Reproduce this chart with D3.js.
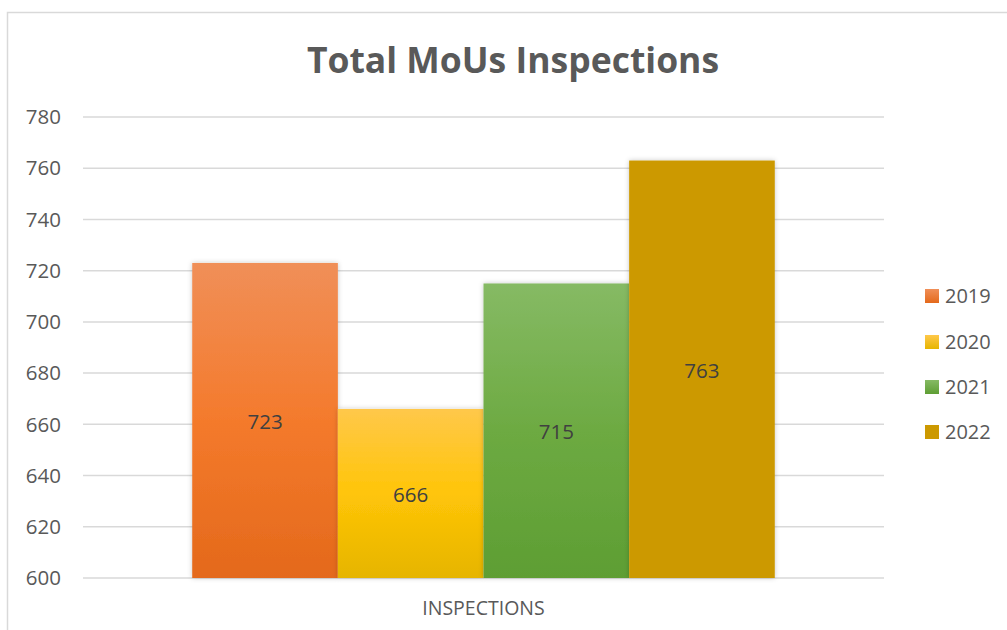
<!DOCTYPE html>
<html><head><meta charset="utf-8">
<script src="https://cdn.jsdelivr.net/npm/d3@7"></script>
<style>html,body{margin:0;padding:0;background:#fff;overflow:hidden}</style>
</head><body>
<script>
const title = "Total MoUs Inspections";
const category = "INSPECTIONS";
const seriesNames = ["2019", "2020", "2021", "2022"];
const values = [723, 666, 715, 763];
const yTicks = [600, 620, 640, 660, 680, 700, 720, 740, 760, 780];
const gradStops = [
  ["#F08F58", "#F47A2C", "#E4691B"],
  ["#FFC84A", "#FFC508", "#E6B500"],
  ["#86BA64", "#6DAA42", "#5E9E33"],
  ["#CC9900", "#CC9900", "#CC9900"]
];
const legendColors = [["#F08F58","#E4691B"],["#FFC84A","#E6B500"],["#86BA64","#5E9E33"],["#CC9900","#CC9900"]];

const W = 1007, H = 630;
const font = "'Open Sans', 'Liberation Sans', sans-serif";
const svg = d3.select("body").append("svg").attr("width", W).attr("height", H);
const defs = svg.append("defs");
gradStops.forEach((s, i) => {
  const g = defs.append("linearGradient").attr("id", "g" + i).attr("x1", 0).attr("y1", 0).attr("x2", 0).attr("y2", 1);
  g.append("stop").attr("offset", "0%").attr("stop-color", s[0]);
  g.append("stop").attr("offset", "50%").attr("stop-color", s[1]);
  g.append("stop").attr("offset", "100%").attr("stop-color", s[2]);
});
legendColors.forEach((s, i) => {
  const g = defs.append("linearGradient").attr("id", "lg" + i).attr("x1", 0).attr("y1", 0).attr("x2", 0).attr("y2", 1);
  g.append("stop").attr("offset", "0%").attr("stop-color", s[0]);
  g.append("stop").attr("offset", "100%").attr("stop-color", s[1]);
});
const f = defs.append("filter").attr("id", "sh").attr("x", "-10%").attr("y", "-10%").attr("width", "120%").attr("height", "120%");
f.append("feDropShadow").attr("dx", 0).attr("dy", 0).attr("stdDeviation", 2.5).attr("flood-color", "#000").attr("flood-opacity", 0.22);

// chart border
svg.append("rect").attr("x", 7.5).attr("y", 12.5).attr("width", 1100).attr("height", 700)
  .attr("fill", "#fff").attr("stroke", "#D9D9D9").attr("stroke-width", 1.5);

const plot = {left: 83, right: 884, top: 117, bottom: 578};
const y = d3.scaleLinear().domain([600, 780]).range([plot.bottom, plot.top]);
const xCat = d3.scaleBand().domain([category]).range([plot.left, plot.right]).paddingInner(0).paddingOuter(0);
// Excel gap width 150%: bars occupy 4/(4+1.5) of category
const groupW = xCat.bandwidth() * 4 / 5.5;
const xS = d3.scaleBand().domain(seriesNames)
  .range([xCat(category) + (xCat.bandwidth() - groupW) / 2, xCat(category) + (xCat.bandwidth() + groupW) / 2]);

// gridlines
svg.append("g").selectAll("line").data(yTicks).join("line")
  .attr("x1", plot.left).attr("x2", plot.right)
  .attr("y1", d => y(d)).attr("y2", d => y(d))
  .attr("stroke", "#D9D9D9").attr("stroke-width", 1.5);

// y labels
svg.append("g").selectAll("text").data(yTicks).join("text")
  .attr("x", 61).attr("y", d => y(d)).attr("dy", "0.35em")
  .attr("text-anchor", "end").attr("font-family", font).attr("font-size", 20.5)
  .attr("fill", "#595959").text(d => d);

// bars
svg.append("g").selectAll("rect").data(values).join("rect")
  .attr("x", (d, i) => xS(seriesNames[i])).attr("width", xS.bandwidth())
  .attr("y", d => y(d)).attr("height", d => y(600) - y(d))
  .attr("fill", (d, i) => `url(#g${i})`).attr("filter", "url(#sh)");

// data labels
svg.append("g").selectAll("text").data(values).join("text")
  .attr("x", (d, i) => xS(seriesNames[i]) + xS.bandwidth() / 2)
  .attr("y", d => (y(d) + y(600)) / 2).attr("dy", "0.42em")
  .attr("text-anchor", "middle").attr("font-family", font).attr("font-size", 20.5)
  .attr("fill", "#404040").text(d => d);

// category label
svg.append("text").attr("x", xCat(category) + xCat.bandwidth() / 2).attr("y", 615)
  .attr("text-anchor", "middle").attr("font-family", font).attr("font-size", 19.5)
  .attr("fill", "#595959").text(category);

// title
svg.append("text").attr("x", 513).attr("y", 73)
  .attr("text-anchor", "middle").attr("font-family", font).attr("font-weight", "bold").attr("font-size", 35.5)
  .attr("fill", "#595959").text(title);

// legend
const ly = [296, 342, 387, 432];
const lg = svg.append("g");
seriesNames.forEach((s, i) => {
  lg.append("rect").attr("x", 925).attr("y", ly[i] - 7).attr("width", 14).attr("height", 14)
    .attr("fill", `url(#lg${i})`);
  lg.append("text").attr("x", 945).attr("y", ly[i]).attr("dy", "0.36em")
    .attr("font-family", font).attr("font-size", 20).attr("fill", "#595959").text(s);
});
</script>
</body></html>
